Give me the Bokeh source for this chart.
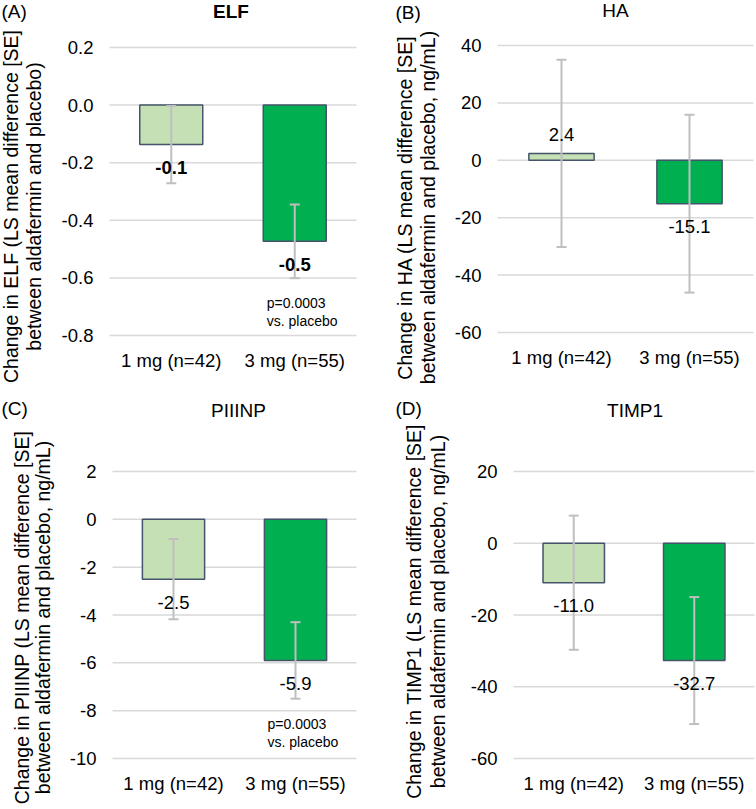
import math
from bokeh.plotting import figure
from bokeh.models import ColumnDataSource, Label, FixedTicker, PrintfTickFormatter, Range1d
from bokeh.layouts import column, row
from bokeh.embed import file_html
from bokeh.resources import INLINE
from bokeh.core.properties import value

FONT = "Liberation Sans"

# ---------------- data ----------------
categories = ["1 mg (n=42)", "3 mg (n=55)"]
bar_colors = ["#C5E0B4", "#00B050"]

elf_mean = [-0.137, -0.473]
elf_se = [0.134, 0.128]
ha_mean = [2.4, -15.1]
ha_se = [32.6, 31.0]
piiinp_mean = [-2.5, -5.9]
piiinp_se = [1.68, 1.60]
timp1_mean = [-11.0, -32.7]
timp1_se = [18.7, 17.7]

elf_ticks = [-0.8, -0.6, -0.4, -0.2, 0.0, 0.2]
ha_ticks = [-60, -40, -20, 0, 20, 40]
piiinp_ticks = [-10, -8, -6, -4, -2, 0, 2]
timp1_ticks = [-60, -40, -20, 0, 20]

pvalue_lines = ["p=0.0003", "vs. placebo"]

# ---------------- layout (canvas pixels of each panel) ----------------
panels = [
    dict(tag="(A)", title="ELF", title_bold=True,
         ylabel=["Change in ELF (LS mean difference [SE]",
                 "between aldafermin and placebo)"],
         mean=elf_mean, se=elf_se, ticks=elf_ticks, fmt="%.1f", label_bold=True, pnote=True,
         W=378, H=396, box=(109, 47, 356, 335),
         tag_xy=(1, 11), title_xy=(230.5, 11), yl_x=(10.5, 33), yl_y=206),
    dict(tag="(B)", title="HA", title_bold=False,
         ylabel=["Change in HA (LS mean difference [SE]",
                 "between aldafermin and placebo, ng/mL)"],
         mean=ha_mean, se=ha_se, ticks=ha_ticks, fmt="%d", label_bold=False, pnote=False,
         W=378, H=396, box=(119, 45, 375, 332),
         tag_xy=(17, 12), title_xy=(237, 10), yl_x=(26, 49), yl_y=207),
    dict(tag="(C)", title="PIIINP", title_bold=False,
         ylabel=["Change in PIIINP (LS mean difference [SE]",
                 "between aldafermin and placebo, ng/mL)"],
         mean=piiinp_mean, se=piiinp_se, ticks=piiinp_ticks, fmt="%d", label_bold=False, pnote=True,
         W=378, H=413, box=(112, 75, 356, 362),
         tag_xy=(1, 12), title_xy=(238, 14), yl_x=(21, 42), yl_y=221),
    dict(tag="(D)", title="TIMP1", title_bold=False,
         ylabel=["Change in TIMP1 (LS mean difference [SE]",
                 "between aldafermin and placebo, ng/mL)"],
         mean=timp1_mean, se=timp1_se, ticks=timp1_ticks, fmt="%d", label_bold=False, pnote=False,
         W=378, H=413, box=(135, 75, 376, 362),
         tag_xy=(17, 12), title_xy=(256.5, 14), yl_x=(35, 59), yl_y=215),
]


def make_panel(s):
    n = len(categories)
    W, H = s["W"], s["H"]
    px0, py0, px1, py1 = s["box"]
    tmin, tmax = min(s["ticks"]), max(s["ticks"])
    ppx = (px1 - px0) / n
    ppy = (py1 - py0) / (tmax - tmin)
    xa, xb = -px0 / ppx, n + (W - px1) / ppx
    ya, yb = tmin - (H - py1) / ppy, tmax + py0 / ppy

    def dx(cx):
        return xa + cx / ppx

    def dy(cy):
        return yb - cy / ppy

    p = figure(x_range=Range1d(xa, xb), y_range=Range1d(ya, yb),
               width=W, height=H, min_border=0,
               output_backend="svg", toolbar_location=None, tools="",
               background_fill_color="white", border_fill_color="white")
    p.title.visible = False
    p.outline_line_color = None
    p.grid.visible = False

    xpos = [i + 0.5 for i in range(n)]
    p.xaxis.fixed_location = tmin
    p.yaxis.fixed_location = 0
    p.xaxis.ticker = FixedTicker(ticks=xpos)
    p.xaxis.major_label_overrides = {x: c for x, c in zip(xpos, categories)}
    p.yaxis.ticker = FixedTicker(ticks=s["ticks"])
    p.yaxis.formatter = PrintfTickFormatter(format=s["fmt"])
    for ax in (p.xaxis[0], p.yaxis[0]):
        ax.axis_line_color = None
        ax.major_tick_line_color = None
        ax.minor_tick_line_color = None
        ax.major_tick_out = 0
        ax.major_tick_in = 0
        ax.major_label_text_font = FONT
        ax.major_label_text_font_size = "18.5px"
        ax.major_label_text_color = "black"
    p.yaxis.major_label_standoff = 16
    p.xaxis.major_label_standoff = 14

    # horizontal gridlines across the plot area only
    p.segment(x0=[0] * len(s["ticks"]), x1=[n] * len(s["ticks"]),
              y0=s["ticks"], y1=s["ticks"], line_color="#D9D9D9", line_width=1.5)

    mean, se = s["mean"], s["se"]
    src = ColumnDataSource(dict(
        x=xpos, mean=mean, color=bar_colors,
        upper=[m + e for m, e in zip(mean, se)],
        lower=[m - e for m, e in zip(mean, se)],
        label=[f"{m:.1f}" for m in mean],
        yoff=[23 if m < 0 else -19 for m in mean],
    ))
    p.vbar(x="x", top="mean", bottom=0, width=0.51, fill_color="color",
           line_color="#44546A", line_width=1.5, source=src)
    p.segment(x0="x", y0="lower", x1="x", y1="upper", line_color="#BFBFBF",
              line_width=2, source=src)
    p.scatter(x="x", y="upper", marker="dash", size=10, line_color="#BFBFBF",
              line_width=2, source=src)
    p.scatter(x="x", y="lower", marker="dash", size=10, line_color="#BFBFBF",
              line_width=2, source=src)
    p.text(x="x", y="mean", text="label", y_offset="yoff", source=src,
           text_align="center", text_baseline="middle", text_font=value(FONT),
           text_font_size="18.5px", text_color="black",
           text_font_style="bold" if s["label_bold"] else "normal")
    if s["pnote"]:
        low2 = mean[1] - se[1]
        p.text(x=[xpos[1]] * len(pvalue_lines), y=[low2] * len(pvalue_lines),
               text=pvalue_lines, x_offset=-28, y_offset=[25, 43],
               text_align="left", text_baseline="middle", text_font=value(FONT),
               text_font_size="14px", text_color="black")

    p.add_layout(Label(x=dx(s["tag_xy"][0]), y=dy(s["tag_xy"][1]),
                       text=s["tag"], text_font=FONT, text_font_size="19px",
                       text_color="black", text_align="left", text_baseline="middle"))
    p.add_layout(Label(x=dx(s["title_xy"][0]), y=dy(s["title_xy"][1]),
                       text=s["title"], text_font=FONT, text_font_size="19px",
                       text_font_style="bold" if s["title_bold"] else "normal",
                       text_color="black", text_align="center", text_baseline="middle"))
    for line, lx in zip(s["ylabel"], s["yl_x"]):
        p.add_layout(Label(x=dx(lx), y=dy(s["yl_y"]),
                           text=line, angle=math.pi / 2, text_font=FONT,
                           text_font_size="19.5px", text_color="black",
                           text_align="center", text_baseline="middle"))
    return p


figs = [make_panel(s) for s in panels]
layout = column(row(figs[0], figs[1]), row(figs[2], figs[3]))

open("out.html", "w").write(file_html(layout, INLINE))
